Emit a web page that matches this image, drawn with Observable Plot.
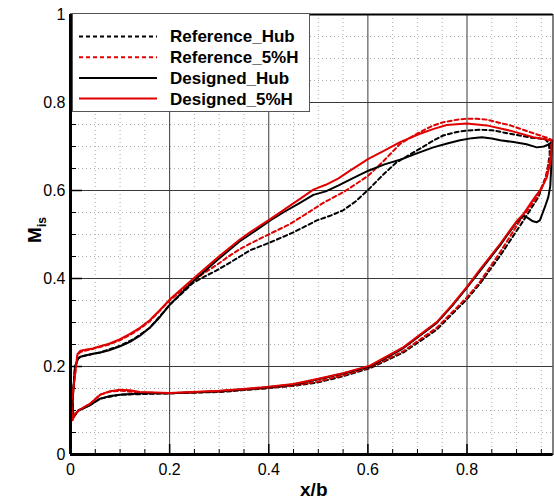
<!DOCTYPE html>
<html><head><meta charset="utf-8">
<script src="https://cdn.jsdelivr.net/npm/d3@7"></script>
<script src="https://cdn.jsdelivr.net/npm/@observablehq/plot@0.6"></script>
<style>body{margin:0;background:#fff}#chart{position:relative;width:554px;height:499px}</style>
</head><body><div id="chart"></div>
<script>
// ---- Designed_5%H (red solid)
const d5UpperX = [0.002,0.006,0.010,0.014,0.020,0.030,0.045,0.060,0.078,0.100,0.120,0.140,0.160,0.180,0.200,0.247,0.294,0.341,0.362,0.403,0.429,0.463,0.490,0.515,0.540,0.564,0.601,0.635,0.665,0.705,0.733,0.759,0.799,0.840,0.887,0.934,0.960,0.972];
const d5UpperY = [0.120,0.150,0.190,0.228,0.236,0.238,0.241,0.246,0.252,0.262,0.274,0.288,0.305,0.328,0.352,0.399,0.445,0.488,0.505,0.535,0.555,0.581,0.602,0.613,0.627,0.645,0.672,0.692,0.710,0.729,0.740,0.749,0.752,0.748,0.736,0.721,0.716,0.713];
const d5LowerX = [0.002,0.004,0.008,0.016,0.039,0.060,0.080,0.100,0.120,0.140,0.200,0.300,0.382,0.450,0.500,0.550,0.604,0.672,0.739,0.770,0.799,0.826,0.840,0.867,0.900,0.914,0.937,0.951,0.961,0.969,0.972];
const d5LowerY = [0.120,0.078,0.090,0.100,0.115,0.136,0.144,0.147,0.146,0.142,0.140,0.145,0.152,0.160,0.172,0.185,0.202,0.244,0.301,0.340,0.380,0.420,0.440,0.479,0.530,0.547,0.585,0.606,0.630,0.668,0.713];
// ---- Designed_Hub (black solid)
const dhUpperX = [0.004,0.009,0.015,0.020,0.030,0.045,0.060,0.078,0.100,0.120,0.140,0.160,0.180,0.200,0.247,0.294,0.341,0.362,0.403,0.429,0.463,0.490,0.515,0.540,0.570,0.601,0.635,0.665,0.700,0.732,0.760,0.786,0.810,0.830,0.850,0.867,0.894,0.920,0.941,0.955,0.965,0.971];
const dhUpperY = [0.120,0.198,0.218,0.222,0.225,0.229,0.232,0.237,0.246,0.256,0.270,0.288,0.312,0.340,0.393,0.440,0.484,0.500,0.532,0.550,0.572,0.590,0.598,0.611,0.628,0.645,0.660,0.670,0.685,0.698,0.707,0.714,0.719,0.721,0.718,0.714,0.710,0.705,0.698,0.700,0.705,0.710];
const dhLowerX = [0.004,0.006,0.016,0.039,0.060,0.080,0.100,0.147,0.200,0.300,0.382,0.450,0.500,0.550,0.604,0.672,0.739,0.770,0.799,0.826,0.867,0.900,0.914,0.921,0.933,0.941,0.947,0.957,0.964,0.968,0.970,0.971];
const dhLowerY = [0.120,0.085,0.100,0.112,0.127,0.133,0.136,0.139,0.139,0.144,0.151,0.159,0.171,0.184,0.200,0.242,0.299,0.338,0.378,0.417,0.476,0.528,0.543,0.539,0.530,0.528,0.532,0.562,0.585,0.610,0.653,0.710];
// ---- Reference_5%H (red dashed)
const r5UpperX = [0.002,0.006,0.010,0.014,0.020,0.045,0.078,0.100,0.130,0.160,0.200,0.247,0.270,0.294,0.320,0.342,0.362,0.403,0.440,0.477,0.510,0.550,0.575,0.601,0.630,0.665,0.699,0.730,0.752,0.780,0.799,0.820,0.840,0.887,0.934,0.961,0.971];
const r5UpperY = [0.120,0.150,0.190,0.226,0.233,0.240,0.250,0.260,0.278,0.303,0.350,0.394,0.413,0.430,0.451,0.467,0.479,0.502,0.522,0.548,0.572,0.596,0.614,0.634,0.665,0.706,0.729,0.747,0.755,0.761,0.763,0.763,0.761,0.748,0.730,0.720,0.715];
const r5LowerX = [0.002,0.004,0.008,0.016,0.039,0.060,0.080,0.100,0.140,0.200,0.300,0.382,0.450,0.500,0.550,0.604,0.672,0.739,0.799,0.826,0.867,0.907,0.914,0.941,0.957,0.967,0.971];
const r5LowerY = [0.120,0.078,0.090,0.100,0.115,0.136,0.143,0.145,0.141,0.139,0.143,0.150,0.157,0.166,0.180,0.198,0.235,0.288,0.356,0.392,0.460,0.532,0.542,0.585,0.623,0.672,0.715];
// ---- Reference_Hub (black dashed)
const rhUpperX = [0.004,0.009,0.015,0.020,0.030,0.060,0.100,0.130,0.160,0.200,0.247,0.270,0.294,0.320,0.342,0.362,0.403,0.450,0.497,0.525,0.550,0.575,0.601,0.630,0.658,0.699,0.733,0.752,0.780,0.799,0.826,0.850,0.887,0.930,0.957,0.965];
const rhUpperY = [0.120,0.200,0.218,0.222,0.225,0.232,0.247,0.264,0.288,0.340,0.390,0.404,0.418,0.435,0.450,0.464,0.482,0.505,0.532,0.543,0.555,0.575,0.602,0.635,0.664,0.691,0.714,0.725,0.733,0.736,0.738,0.737,0.729,0.720,0.717,0.708];
const rhLowerX = [0.004,0.006,0.016,0.039,0.060,0.100,0.200,0.300,0.382,0.450,0.500,0.550,0.604,0.672,0.739,0.799,0.826,0.867,0.914,0.944,0.961,0.967,0.965];
const rhLowerY = [0.120,0.085,0.100,0.112,0.127,0.136,0.139,0.142,0.149,0.156,0.164,0.178,0.196,0.232,0.284,0.352,0.388,0.452,0.532,0.585,0.638,0.683,0.708];

const seriesNames = ["Reference_Hub","Reference_5%H","Designed_Hub","Designed_5%H"];
const xMajor = [0,0.2,0.4,0.6,0.8];
const yMajor = [0,0.2,0.4,0.6,0.8,1];
const xMinor = [0.05,0.1,0.15,0.25,0.3,0.35,0.45,0.5,0.55,0.65,0.7,0.75,0.85,0.9,0.95];
const yMinor = [0.05,0.1,0.15,0.25,0.3,0.35,0.45,0.5,0.55,0.65,0.7,0.75,0.85,0.9,0.95];

function loop(name, ux, uy, lx, ly) {
  const pts = ux.map((x, i) => ({series: name, x, y: uy[i]}));
  for (let i = lx.length - 1; i >= 0; i--) pts.push({series: name, x: lx[i], y: ly[i]});
  return pts;
}
const refHub = loop(seriesNames[0], rhUpperX, rhUpperY, rhLowerX, rhLowerY);
const ref5 = loop(seriesNames[1], r5UpperX, r5UpperY, r5LowerX, r5LowerY);
const desHub = loop(seriesNames[2], dhUpperX, dhUpperY, dhLowerX, dhLowerY);
const des5 = loop(seriesNames[3], d5UpperX, d5UpperY, d5LowerX, d5LowerY);

const RED = "#e00000";
const W = 554, H = 499, ML = 70, MR = 1.5, MT = 14, MB = 45;
const PW = W - ML - MR, PH = H - MT - MB;
const fmt = d3.format("~g");
const FONT = "'Liberation Sans', Arial, sans-serif";

const chart = Plot.plot({
  width: W, height: H,
  marginLeft: ML, marginRight: MR, marginTop: MT, marginBottom: MB,
  style: {background: "#fff", fontFamily: FONT, color: "#000"},
  x: {domain: [0, 0.9735], axis: null},
  y: {domain: [0, 1], axis: null},
  marks: [
    Plot.gridX({ticks: xMinor, stroke: "#aaa", strokeOpacity: 1, strokeDasharray: "1,3"}),
    Plot.gridY({ticks: yMinor, stroke: "#aaa", strokeOpacity: 1, strokeDasharray: "1,3"}),
    Plot.gridX({ticks: xMajor, stroke: "#3a3a3a", strokeOpacity: 1, strokeWidth: 1}),
    Plot.gridY({ticks: yMajor, stroke: "#3a3a3a", strokeOpacity: 1, strokeWidth: 1}),
    Plot.tickX(xMinor, {x: d => d, insetTop: PH - 5, stroke: "#000", strokeWidth: 1}),
    Plot.tickX(xMajor, {x: d => d, insetTop: PH - 10, stroke: "#000", strokeWidth: 1.5}),
    Plot.tickY(yMinor, {y: d => d, insetRight: PW - 6, stroke: "#000", strokeWidth: 1}),
    Plot.tickY(yMajor, {y: d => d, insetRight: PW - 12, stroke: "#000", strokeWidth: 1.5}),
    Plot.line(refHub, {x: "x", y: "y", stroke: "#000", strokeWidth: 2, strokeDasharray: "4,3"}),
    Plot.line(ref5, {x: "x", y: "y", stroke: RED, strokeWidth: 2, strokeDasharray: "4,3"}),
    Plot.line(desHub, {x: "x", y: "y", stroke: "#000", strokeWidth: 2}),
    Plot.line(des5, {x: "x", y: "y", stroke: RED, strokeWidth: 2}),
    Plot.frame({stroke: "#000", strokeWidth: 1}),
    Plot.ruleY([1], {stroke: "#000", strokeWidth: 2}),
    Plot.ruleX([0], {stroke: "#000", strokeWidth: 3}),
    Plot.ruleY([0], {stroke: "#000", strokeWidth: 3}),
    Plot.axisX({ticks: xMajor, tickSize: 0, tickPadding: 9, fontSize: 16, tickFormat: fmt, label: null}),
    Plot.axisY({ticks: yMajor, tickSize: 0, tickPadding: 5, fontSize: 16, tickFormat: fmt, label: null}),
    Plot.text(["x/b"], {frameAnchor: "bottom", dy: 41, lineAnchor: "bottom", fontSize: 19, fontWeight: "bold", dx: 2})
  ]
});

const svg = d3.select(chart);
// y-axis label M_is
const ylab = svg.append("text")
  .attr("transform", `translate(41,${MT + PH / 2 - 4}) rotate(-90)`)
  .attr("text-anchor", "middle")
  .attr("font-family", FONT)
  .attr("font-weight", "bold")
  .attr("font-size", 19);
ylab.append("tspan").text("M");
ylab.append("tspan").attr("font-size", 12).attr("dy", 5).text("is");

// legend
const lg = svg.append("g").attr("transform", "translate(72.5,13.5)").attr("text-anchor", "start");
lg.append("rect").attr("width", 237).attr("height", 98).attr("fill", "#fff").attr("stroke", "#555").attr("stroke-width", 1);
const legendStyles = [
  {stroke: "#000", dash: "4,3"},
  {stroke: RED, dash: "4,3"},
  {stroke: "#000", dash: null},
  {stroke: RED, dash: null}
];
seriesNames.forEach((name, i) => {
  const cy = 23 + i * 20.7;
  const l = lg.append("line").attr("x1", 6.5).attr("x2", 84.5).attr("y1", cy).attr("y2", cy)
    .attr("stroke", legendStyles[i].stroke).attr("stroke-width", 2);
  if (legendStyles[i].dash) l.attr("stroke-dasharray", legendStyles[i].dash);
  lg.append("text").attr("x", 97.5).attr("y", cy).attr("dy", "0.35em")
    .attr("text-anchor", "start")
    .attr("font-family", FONT)
    .attr("font-weight", "bold").attr("font-size", 17).text(name);
});

document.getElementById("chart").appendChild(chart);
</script>
</body></html>
